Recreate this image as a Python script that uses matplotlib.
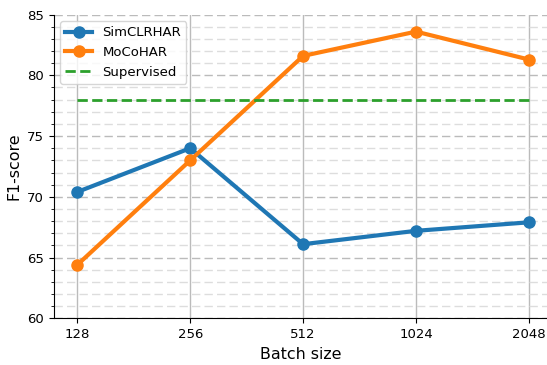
import matplotlib
matplotlib.use("Agg")
import matplotlib.pyplot as plt
from matplotlib.ticker import MultipleLocator

batch_sizes = ["128", "256", "512", "1024", "2048"]
simclr = [70.4, 74.0, 66.1, 67.2, 67.9]
moco = [64.4, 73.0, 81.6, 83.6, 81.3]
supervised = 78.0

fig = plt.figure(figsize=(5.47, 3.65), dpi=100)
ax = fig.add_axes([0.098, 0.128, 0.902, 0.832])

x = list(range(len(batch_sizes)))
ax.plot(x, simclr, "o-", color="#1f77b4", lw=3, ms=8, label="SimCLRHAR", zorder=3)
ax.plot(x, moco, "o-", color="#ff7f0e", lw=3, ms=8, label="MoCoHAR", zorder=3)
ax.plot(x, [supervised] * len(x), "--", color="#2ca02c", lw=2, label="Supervised", zorder=3)

ax.set_xticks(x)
ax.set_xticklabels(batch_sizes)
ax.set_xlim(-0.21, 4.16)
ax.set_ylim(60, 85)
ax.yaxis.set_major_locator(MultipleLocator(5))
ax.yaxis.set_minor_locator(MultipleLocator(1))

# vertical grid solid, horizontal grid dashed (major darker than minor)
ax.grid(axis="x", which="major", color="#bbbbbb", lw=1)
ax.grid(axis="y", which="major", color="#bbbbbb", ls=(0, (6, 3)), lw=1)
ax.grid(axis="y", which="minor", color="#dddddd", ls=(0, (6, 3)), lw=1)
ax.set_axisbelow(True)

ax.spines["top"].set_visible(False)
ax.spines["right"].set_visible(False)
ax.tick_params(labelsize=9.5)

ax.set_xlabel("Batch size", fontsize=11.4)
ax.set_ylabel("F1-score", fontsize=11.4)
ax.legend(loc="upper left", fontsize=9.5)

fig.savefig("out.png", dpi=100)
